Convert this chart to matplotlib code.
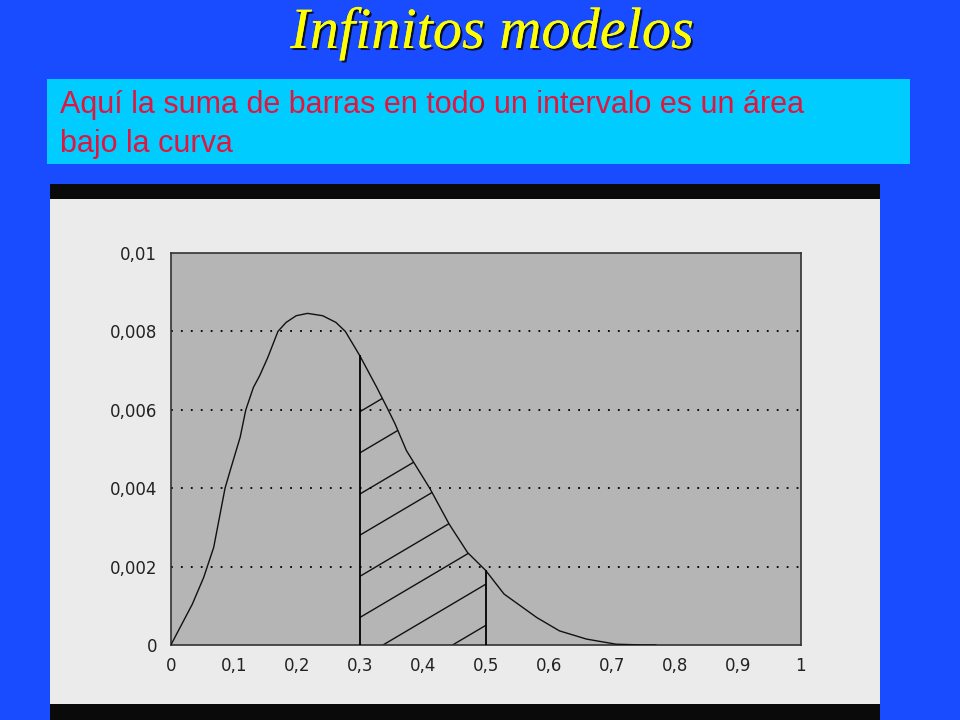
import numpy as np
import matplotlib
matplotlib.use("Agg")
import matplotlib.pyplot as plt
import matplotlib.patheffects as pe
from matplotlib.patches import Rectangle

# curve
x_vals = [0, 0.034, 0.052, 0.068, 0.086, 0.094, 0.11, 0.119, 0.131, 0.141,
          0.154, 0.17, 0.183, 0.199, 0.217, 0.241, 0.262, 0.277, 0.3, 0.327,
          0.345, 0.356, 0.374, 0.411, 0.442, 0.471, 0.5, 0.529, 0.581, 0.617,
          0.66, 0.707, 0.75, 0.77]
y_vals = [0, 0.00104, 0.00172, 0.00249, 0.004, 0.00444, 0.0053, 0.006, 0.00657, 0.00687,
          0.00734, 0.008, 0.00823, 0.0084, 0.00846, 0.0084, 0.00823, 0.008, 0.00738, 0.00657,
          0.006, 0.00564, 0.00496, 0.004, 0.00308, 0.00236, 0.0019, 0.0013, 0.0007, 0.00036,
          0.00015, 0.00002, 0.0, 0.0]
interval = [0.3, 0.5]

x_ticks = [0, 0.1, 0.2, 0.3, 0.4, 0.5, 0.6, 0.7, 0.8, 0.9, 1]
x_labels = ["0", "0,1", "0,2", "0,3", "0,4", "0,5", "0,6", "0,7", "0,8", "0,9", "1"]
y_ticks = [0, 0.002, 0.004, 0.006, 0.008, 0.01]
y_labels = ["0", "0,002", "0,004", "0,006", "0,008", "0,01"]

title = "Infinitos modelos"
subtitle = "Aquí la suma de barras en todo un intervalo es un área\nbajo la curva"

blue = "#1a4cff"
fig = plt.figure(figsize=(9.6, 7.2), dpi=100, facecolor=blue)

# title and cyan text box
fig.text(0.513, 0.953, title, ha="center", va="center", fontsize=42,
         family="Liberation Serif", style="italic", color="#ffff00",
         path_effects=[pe.withSimplePatchShadow(offset=(1.5, -1.5), shadow_rgbFace="black", alpha=0.8),
                       pe.Normal()])
fig.patches.append(Rectangle((0.049, 0.7722), 0.899, 0.118, transform=fig.transFigure,
                             facecolor="#00ccff", edgecolor="none", zorder=-5))
fig.text(0.062, 0.827, subtitle, ha="left", va="center", fontsize=22,
         family="Liberation Sans", color="#e0163f", linespacing=1.38)

# chart panel with black bands
fig.patches.append(Rectangle((0.0521, 0.0222), 0.8646, 0.7014, transform=fig.transFigure,
                             facecolor="#ebebeb", edgecolor="none", zorder=-5))
fig.patches.append(Rectangle((0.0521, 0.7236), 0.8646, 0.0208, transform=fig.transFigure,
                             facecolor="#0a0a0a", edgecolor="none", zorder=-5))
fig.patches.append(Rectangle((0.0521, 0.0), 0.8646, 0.0222, transform=fig.transFigure,
                             facecolor="#0a0a0a", edgecolor="none", zorder=-5))

ax = fig.add_axes([0.178, 0.1042, 0.656, 0.5444])
ax.set_facecolor("#b5b5b5")
ax.set_xlim(0, 1)
ax.set_ylim(0, 0.01)

for yt in y_ticks[1:-1]:
    ax.axhline(yt, color="black", lw=1.3, ls=(0, (1, 4.5)), zorder=1)

x = np.array(x_vals)
y = np.array(y_vals)
ax.plot(x, y, color="#111111", lw=1.0, zorder=3)

# shaded interval: vertical edges and sparse hatch
mask = (x >= interval[0]) & (x <= interval[1])
poly = ax.fill_between(x[mask], 0, y[mask], facecolor="none", edgecolor="none")
clip = poly.get_paths()[0]
for xi in interval:
    ax.plot([xi, xi], [0, y[x == xi][0]], color="black", lw=1.3, zorder=3)
slope = 0.0095
for b in np.arange(-0.0014, 0.0062, 0.00105):
    ln, = ax.plot([interval[0], interval[1]],
                  [b, b + slope * (interval[1] - interval[0])],
                  color="#111111", lw=1.0, zorder=2)
    ln.set_clip_path(clip, ax.transData)

ax.set_xticks(x_ticks)
ax.set_xticklabels(x_labels)
ax.set_yticks(y_ticks)
ax.set_yticklabels(y_labels)
ax.tick_params(length=0, labelsize=12, colors="#222222", pad=10)
ax.tick_params(axis="x", pad=9)
for lab in ax.get_xticklabels() + ax.get_yticklabels():
    lab.set_family("DejaVu Sans")
for s in ax.spines.values():
    s.set_color("#333333")
    s.set_linewidth(1.2)

fig.savefig("out.png", dpi=100, facecolor=blue)
